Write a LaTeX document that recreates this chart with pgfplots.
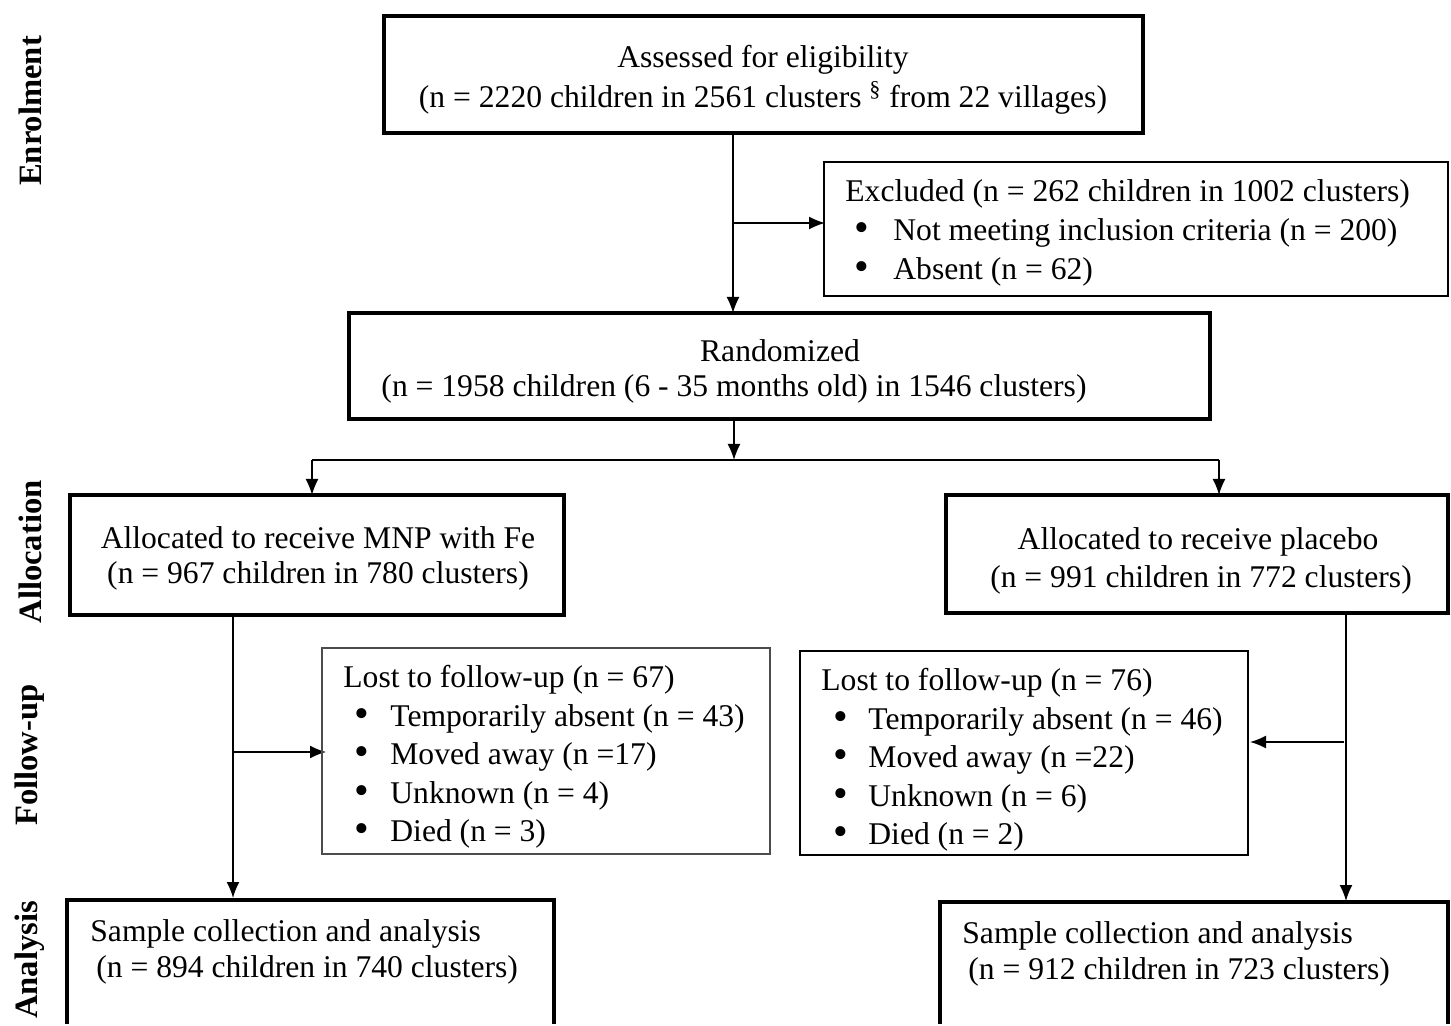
\documentclass[border=0pt]{standalone}
\usepackage{fontspec}
\setmainfont{Liberation Serif}
\usepackage{pgfplots}
\pgfplotsset{compat=1.18}
\usetikzlibrary{arrows.meta}
\begin{document}
\begin{tikzpicture}[font=\fontsize{15.8}{19}\selectfont]
\tikzset{thickbox/.style={line width=1.6pt, black},
         thinbox/.style={line width=0.9pt, black},
         grayline/.style={line width=0.6pt, black!70},
         arr/.style={line width=0.8pt, -{Latex[length=8pt,width=6.5pt]}},
         ln/.style={line width=0.8pt},
         t/.style={inner sep=0pt, yshift=-1pt, font=\fontsize{15.8}{19}\selectfont},
         tl/.style={t, anchor=west},
         bul/.style={inner sep=0pt, yshift=-0.5pt, font=\fontsize{21}{21}\selectfont},
         side/.style={inner sep=0pt, rotate=90, font=\fontsize{16.3}{19}\selectfont\bfseries}}
\begin{axis}[
  scale only axis, width=725.5pt, height=512pt,
  xmin=0, xmax=1451, ymin=0, ymax=1024, y dir=reverse,
  axis lines=none, clip=false,
]
\path (axis cs:0,0) rectangle (axis cs:1451,1024);
% side labels
\node[side] at (axis cs:30,111) {Enrolment};
\node[side] at (axis cs:30,552) {Allocation};
\node[side] at (axis cs:30,755) {Follow-up};
\node[side] at (axis cs:30,960) {Analysis};
% Box 1
\draw[thickbox] (axis cs:384,16) rectangle (axis cs:1143,133);
\node[t] at (axis cs:763,58) {Assessed for eligibility};
\node[t] at (axis cs:763,96) {(n = 2220 children in 2561 clusters \textsuperscript{\S} from 22 villages)};
% to randomized
\draw[arr] (axis cs:733,133) -- (axis cs:733,313);
\draw[arr] (axis cs:733,223) -- (axis cs:825,223);
% Excluded
\draw[thinbox] (axis cs:824,162) rectangle (axis cs:1448,296);
\node[tl] at (axis cs:845,192) {Excluded (n = 262 children in 1002 clusters)};
\node[bul] at (axis cs:862,231) {\textbullet};
\node[tl] at (axis cs:893,231) {Not meeting inclusion criteria (n = 200)};
\node[bul] at (axis cs:862,270) {\textbullet};
\node[tl] at (axis cs:893,270) {Absent (n = 62)};
% Randomized
\draw[thickbox] (axis cs:349,313) rectangle (axis cs:1210,419);
\node[t] at (axis cs:780,349) {Randomized};
\node[t] at (axis cs:734,387) {(n = 1958 children (6 - 35 months old) in 1546 clusters)};
\draw[arr] (axis cs:734,419) -- (axis cs:734,460);
\draw[ln] (axis cs:312,460) -- (axis cs:1219,460);
\draw[arr] (axis cs:312,460) -- (axis cs:312,495);
\draw[arr] (axis cs:1219,460) -- (axis cs:1219,495);
% Allocation boxes
\draw[thickbox] (axis cs:70,495) rectangle (axis cs:564,615);
\node[t] at (axis cs:318,536) {Allocated to receive MNP with Fe};
\node[t] at (axis cs:318,574) {(n = 967 children in 780 clusters)};
\draw[thickbox] (axis cs:946,495) rectangle (axis cs:1448,613);
\node[t] at (axis cs:1198,540) {Allocated to receive placebo};
\node[t] at (axis cs:1201,578) {(n = 991 children in 772 clusters)};
% left follow-up
\draw[arr] (axis cs:233,615) -- (axis cs:233,898);
\draw[arr] (axis cs:233,752) -- (axis cs:326,752);
\draw[grayline] (axis cs:322,648) rectangle (axis cs:770,854);
\node[tl] at (axis cs:343,678) {Lost to follow-up (n = 67)};
\node[bul] at (axis cs:362,717) {\textbullet};
\node[tl] at (axis cs:390,717) {Temporarily absent (n = 43)};
\node[bul] at (axis cs:362,755) {\textbullet};
\node[tl] at (axis cs:390,755) {Moved away (n =17)};
\node[bul] at (axis cs:362,794) {\textbullet};
\node[tl] at (axis cs:390,794) {Unknown (n = 4)};
\node[bul] at (axis cs:362,832) {\textbullet};
\node[tl] at (axis cs:390,832) {Died (n = 3)};
% right follow-up
\draw[arr] (axis cs:1346,613) -- (axis cs:1346,901);
\draw[arr] (axis cs:1344,742) -- (axis cs:1250,742);
\draw[thinbox] (axis cs:800,651) rectangle (axis cs:1248,855);
\node[tl] at (axis cs:821,681) {Lost to follow-up (n = 76)};
\node[bul] at (axis cs:841,720) {\textbullet};
\node[tl] at (axis cs:868,720) {Temporarily absent (n = 46)};
\node[bul] at (axis cs:841,758) {\textbullet};
\node[tl] at (axis cs:868,758) {Moved away (n =22)};
\node[bul] at (axis cs:841,797) {\textbullet};
\node[tl] at (axis cs:868,797) {Unknown (n = 6)};
\node[bul] at (axis cs:841,835) {\textbullet};
\node[tl] at (axis cs:868,835) {Died (n = 2)};
% analysis boxes
\draw[thickbox] (axis cs:67,1024) -- (axis cs:67,900) -- (axis cs:554,900) -- (axis cs:554,1024);
\node[tl] at (axis cs:90,932) {Sample collection and analysis};
\node[tl] at (axis cs:96,968) {(n = 894 children in 740 clusters)};
\draw[thickbox] (axis cs:940,1024) -- (axis cs:940,902) -- (axis cs:1448,902) -- (axis cs:1448,1024);
\node[tl] at (axis cs:962,934) {Sample collection and analysis};
\node[tl] at (axis cs:968,970) {(n = 912 children in 723 clusters)};
\end{axis}
\end{tikzpicture}
\end{document}
